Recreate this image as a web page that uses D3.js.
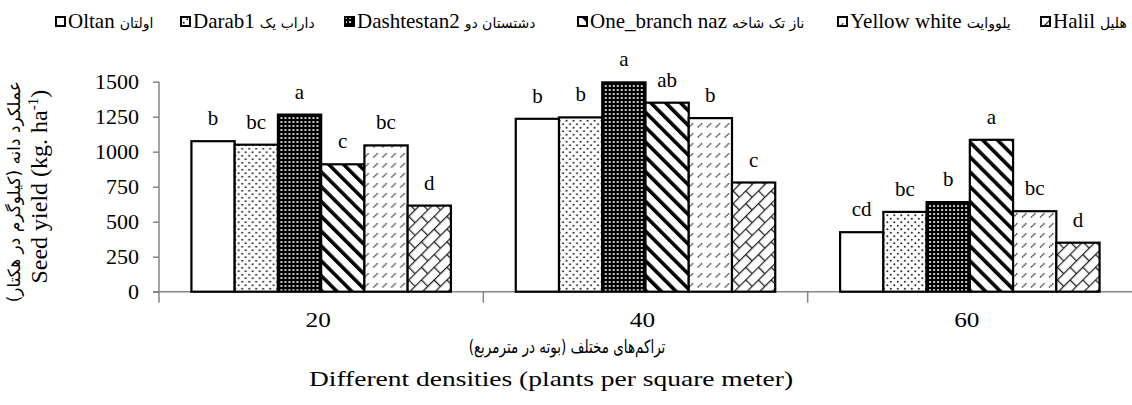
<!DOCTYPE html>
<html>
<head>
<meta charset="utf-8">
<script src="https://cdn.jsdelivr.net/npm/d3@7"></script>
<style>
  html, body { margin: 0; padding: 0; background: #fff; }
  svg { display: block; }
  text { font-family: "Liberation Serif", "Times New Roman", serif; fill: #000; }
  .fa { font-family: "DejaVu Sans", sans-serif; }
</style>
</head>
<body>
<svg id="chart" width="1132" height="405"></svg>
<script>
// ---------------- data ----------------
const categories = ["20", "40", "60"];
const seriesNames = ["Oltan", "Darab1", "Dashtestan2", "One_branch naz", "Yellow white", "Halil"];
const seriesNamesFa = ["اولتان", "داراب یک", "دشتستان دو", "ناز تک شاخه", "یلووایت", "هلیل"];
const oltan       = [1075, 1235, 425];
const darab1      = [1050, 1245, 570];
const dashtestan2 = [1265, 1495, 640];
const oneBranch   = [910, 1350, 1085];
const yellowWhite = [1045, 1240, 575];
const halil       = [615, 780, 350];
const lettersOltan       = ["b", "b", "cd"];
const lettersDarab1      = ["bc", "b", "bc"];
const lettersDashtestan2 = ["a", "a", "b"];
const lettersOneBranch   = ["c", "ab", "a"];
const lettersYellowWhite = ["bc", "b", "bc"];
const lettersHalil       = ["d", "c", "d"];
const yTicks = [0, 250, 500, 750, 1000, 1250, 1500];
const xTitleFa = "تراکم‌های مختلف (بوته در مترمربع)";
const xTitleEn = "Different densities (plants per square meter)";
const yTitleFa = "عملکرد دانه (کیلوگرم در هکتار)";
const yTitleEn = "Seed yield (kg. ha";

const seriesValues = [oltan, darab1, dashtestan2, oneBranch, yellowWhite, halil];
const seriesLetters = [lettersOltan, lettersDarab1, lettersDashtestan2, lettersOneBranch, lettersYellowWhite, lettersHalil];
const patternIds = ["p-white", "p-dots", "p-dark", "p-diag", "p-dash", "p-brick"];

// ---------------- layout ----------------
const plotLeft = 159, plotRight = 1132, plotTop = 81.7, plotBottom = 291.7;
const legendX = [55, 180, 344, 577, 837, 1040];
const legendBaseline = 28;

const svg = d3.select("#chart");
const defs = svg.append("defs");

// patterns
(function () {
  let p = defs.append("pattern").attr("id", "p-white").attr("patternUnits", "userSpaceOnUse")
    .attr("width", 4).attr("height", 4);
  p.append("rect").attr("width", 4).attr("height", 4).attr("fill", "#fff");

  p = defs.append("pattern").attr("id", "p-dots").attr("patternUnits", "userSpaceOnUse")
    .attr("width", 7).attr("height", 7);
  p.append("rect").attr("width", 7).attr("height", 7).attr("fill", "#fff");
  p.append("circle").attr("cx", 1.75).attr("cy", 1.75).attr("r", 1).attr("fill", "#222");
  p.append("circle").attr("cx", 5.25).attr("cy", 5.25).attr("r", 1).attr("fill", "#222");

  p = defs.append("pattern").attr("id", "p-dark").attr("patternUnits", "userSpaceOnUse")
    .attr("width", 4).attr("height", 4);
  p.append("rect").attr("width", 4).attr("height", 4).attr("fill", "#000");
  p.append("rect").attr("x", 1).attr("y", 1).attr("width", 2).attr("height", 2).attr("fill", "#c8c8c8");

  p = defs.append("pattern").attr("id", "p-diag").attr("patternUnits", "userSpaceOnUse")
    .attr("width", 10.5).attr("height", 10).attr("patternTransform", "rotate(-45)");
  p.append("rect").attr("width", 10.5).attr("height", 10).attr("fill", "#fff");
  p.append("rect").attr("width", 3.6).attr("height", 10).attr("fill", "#000");

  p = defs.append("pattern").attr("id", "p-dash").attr("patternUnits", "userSpaceOnUse")
    .attr("width", 9).attr("height", 10);
  p.append("rect").attr("width", 9).attr("height", 10).attr("fill", "#fff");
  p.append("line").attr("x1", 2).attr("y1", 7.5).attr("x2", 6.5).attr("y2", 3)
    .attr("stroke", "#444").attr("stroke-width", 1.4).attr("stroke-dasharray", "1.6 0.6");

  p = defs.append("pattern").attr("id", "p-brick").attr("patternUnits", "userSpaceOnUse")
    .attr("width", 18).attr("height", 18).attr("patternTransform", "rotate(-45)");
  p.append("rect").attr("width", 18).attr("height", 18).attr("fill", "#fff");
  p.append("path").attr("d", "M0,0.6H18M0,9.6H18M0.6,0V9.6M9.6,9.6V18")
    .attr("stroke", "#222").attr("stroke-width", 1.3).attr("fill", "none");
})();

// scales
const x0 = d3.scaleBand().domain(categories).range([plotLeft, plotRight])
  .paddingInner(0.2).paddingOuter(0.1);
const x1 = d3.scaleBand().domain(seriesNames).range([0, x0.bandwidth()]).padding(0);
const y = d3.scaleLinear().domain([0, 1500]).range([plotBottom, plotTop]);

// axes
const axisColor = "#868686";
const yAxis = svg.append("g").attr("transform", `translate(${plotLeft},0)`)
  .call(d3.axisLeft(y).tickValues(yTicks).tickSize(6).tickPadding(14).tickFormat(d3.format("d")));
yAxis.attr("font-family", null);
yAxis.select(".domain").remove();
yAxis.selectAll(".tick line").attr("stroke", axisColor).attr("stroke-width", 1.5);
yAxis.selectAll(".tick text").attr("font-size", 22).attr("fill", "#000");
svg.append("line").attr("x1", plotLeft).attr("x2", plotLeft).attr("y1", plotTop).attr("y2", plotBottom + 11)
  .attr("stroke", axisColor).attr("stroke-width", 1.5);

// x axis
svg.append("line").attr("x1", plotLeft - 6).attr("x2", plotRight).attr("y1", plotBottom).attr("y2", plotBottom)
  .attr("stroke", axisColor).attr("stroke-width", 1.5);
const step = x0.step();
categories.forEach((c, i) => {
  if (i > 0) {
    const bx = x0(c) - step * x0.paddingInner() / 2;
    svg.append("line").attr("x1", bx).attr("x2", bx).attr("y1", plotBottom).attr("y2", plotBottom + 11)
      .attr("stroke", axisColor).attr("stroke-width", 1.5);
  }
});
svg.append("g").selectAll("text").data(categories).join("text")
  .attr("transform", d => `translate(${x0(d) + x0.bandwidth() / 2 - 3},${plotBottom + 35}) scale(1.15,1)`)
  .attr("text-anchor", "middle").attr("font-size", 22)
  .text(d => d);

// bars
const groups = svg.append("g").selectAll("g").data(categories).join("g")
  .attr("transform", d => `translate(${x0(d)},0)`);
groups.each(function (cat, ci) {
  const g = d3.select(this);
  seriesNames.forEach((s, si) => {
    const v = seriesValues[si][ci];
    g.append("rect")
      .attr("x", x1(s)).attr("y", y(v))
      .attr("width", x1.bandwidth()).attr("height", y(0) - y(v))
      .attr("fill", `url(#${patternIds[si]})`)
      .attr("stroke", "#000").attr("stroke-width", 2.2);
    g.append("text")
      .attr("x", x1(s) + x1.bandwidth() / 2).attr("y", y(v) - 16)
      .attr("text-anchor", "middle").attr("font-size", 21)
      .text(seriesLetters[si][ci]);
  });
});

// legend
const legend = svg.append("g");
seriesNames.forEach((s, i) => {
  const lx = legendX[i];
  legend.append("rect").attr("x", lx + 1).attr("y", legendBaseline - 11).attr("width", 9).attr("height", 9)
    .attr("fill", `url(#${patternIds[i]})`).attr("stroke", "#000").attr("stroke-width", 2);
  const en = legend.append("text").attr("x", lx + 13).attr("y", legendBaseline)
    .attr("font-size", 21).text(s);
  const w = en.node().getComputedTextLength();
  legend.append("text").attr("class", "fa").attr("x", lx + 13 + w + 5).attr("y", legendBaseline)
    .attr("font-size", 14).attr("text-anchor", "start")
    .text(seriesNamesFa[i]);
});

// x axis titles
svg.append("text").attr("class", "fa")
  .attr("transform", "translate(567,353) scale(0.75,1)")
  .attr("text-anchor", "middle").attr("direction", "rtl").attr("font-size", 18).text(xTitleFa);
svg.append("text")
  .attr("transform", "translate(551,386) scale(1.25,1)")
  .attr("text-anchor", "middle").attr("font-size", 22).text(xTitleEn);

// y axis titles
svg.append("text").attr("class", "fa")
  .attr("transform", `translate(20,${(plotTop + plotBottom) / 2 + 5}) rotate(-90)`)
  .attr("text-anchor", "middle").attr("direction", "rtl").attr("font-size", 17).text(yTitleFa);
const yt = svg.append("text")
  .attr("transform", `translate(47,${(plotTop + plotBottom) / 2}) rotate(-90)`)
  .attr("text-anchor", "middle").attr("font-size", 24);
yt.append("tspan").text(yTitleEn);
yt.append("tspan").attr("font-size", 15).attr("dy", -9).text("-1");
yt.append("tspan").attr("dy", 9).text(")");
</script>
</body>
</html>
